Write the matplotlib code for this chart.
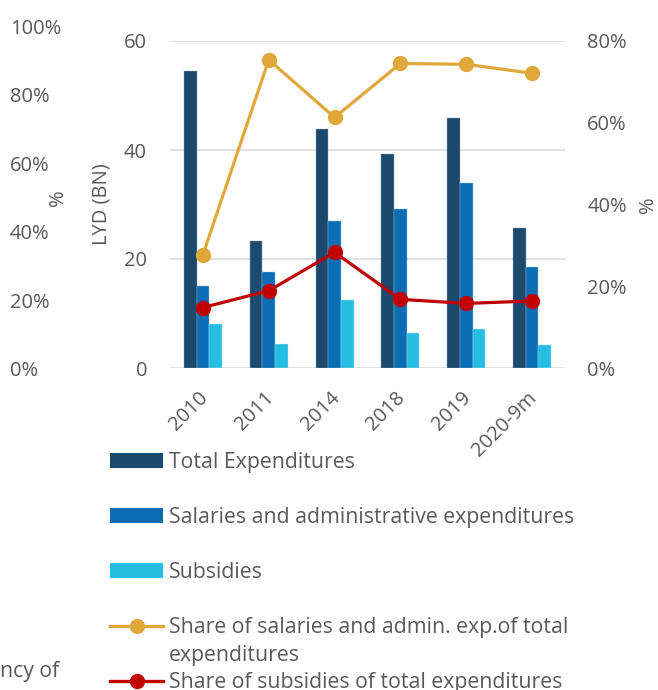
import matplotlib
matplotlib.use('Agg')
import matplotlib.pyplot as plt
import matplotlib.transforms as mtransforms
from matplotlib.lines import Line2D
from matplotlib.patches import Patch
import numpy as np

# ---- data ----
years = ['2010', '2011', '2014', '2018', '2019', '2020-9m']
total_exp = [54.5, 23.3, 43.8, 39.3, 45.8, 25.6]
salaries_exp = [15.0, 17.6, 26.9, 29.2, 33.9, 18.5]
subsidies = [8.0, 4.4, 12.4, 6.5, 7.2, 4.2]
share_salaries = [27.7, 75.4, 61.3, 74.5, 74.3, 72.1]
share_subsidies = [14.8, 18.9, 28.3, 16.8, 15.8, 16.4]
left_ticks = [0, 20, 40, 60, 80, 100]
lyd_ticks = [0, 20, 40, 60]
right_ticks = [0, 20, 40, 60, 80]
legend_labels = ['Total Expenditures',
                 'Salaries and administrative expenditures',
                 'Subsidies',
                 'Share of salaries and admin. exp.of total',
                 'Share of subsidies of total expenditures']

C_TOTAL = '#1c4a6e'
C_SAL = '#0b6db3'
C_SUB = '#26bde2'
C_GOLD = '#e0a83a'
C_RED = '#c00000'
GRAY = '#595959'

plt.rcParams['font.family'] = ['Open Sans', 'DejaVu Sans']
FS = 14.5
LFS = 15.3
W, H = 658, 690
fig = plt.figure(figsize=(W / 100, H / 100), dpi=100)


def fx(px):
    return px / W


def fy(py):
    return 1 - py / H


# ---- main axes ----
ax = fig.add_axes([fx(170), fy(368), fx(565) - fx(170), fy(41) - fy(368)])
x = np.arange(len(years))
bw = 0.1925
ax.bar(x - bw, total_exp, bw, color=C_TOTAL, zorder=2, edgecolor='#8fa7bb', linewidth=0.3)
ax.bar(x, salaries_exp, bw, color=C_SAL, zorder=2, edgecolor='#8fc0e0', linewidth=0.3)
ax.bar(x + bw, subsidies, bw, color=C_SUB, zorder=2, edgecolor='#a8e4f3', linewidth=0.3)
ax.set_xlim(-0.5, len(years) - 0.5)
ax.set_ylim(0, 60)
ax.set_yticks(lyd_ticks)
ax.grid(axis='y', color='#d9d9d9', lw=1.1)
ax.set_axisbelow(True)
for s in ax.spines.values():
    s.set_visible(False)
ax.tick_params(axis='y', length=0, pad=16.5, labelsize=FS, labelcolor=GRAY)
ax.tick_params(axis='x', length=0, pad=14.5, labelsize=FS, labelcolor=GRAY)
ax.set_xticks(x)
ax.set_xticklabels(years, rotation=45, ha='right', va='top', rotation_mode='anchor')
off = mtransforms.ScaledTranslation(-5 / 100, 0, fig.dpi_scale_trans)
for lab in ax.get_xticklabels():
    lab.set_transform(lab.get_transform() + off)
ax.set_ylabel('LYD (BN)', fontsize=FS, color=GRAY, va='center')
ax.yaxis.set_label_coords(fx(102), 0.5,
                          transform=mtransforms.blended_transform_factory(fig.transFigure, ax.transAxes))

# ---- right axes ----
ax2 = ax.twinx()
ax2.plot(x, share_salaries, color=C_GOLD, lw=2.3, marker='o', ms=10, zorder=3)
ax2.plot(x, share_subsidies, color=C_RED, lw=2.3, marker='o', ms=10, zorder=4)
ax2.set_ylim(0, 80)
ax2.set_yticks(right_ticks)
ax2.set_yticklabels([f'{t}%' for t in right_ticks])
for s in ax2.spines.values():
    s.set_visible(False)
ax2.tick_params(axis='y', length=0, pad=16, labelsize=FS, labelcolor=GRAY)
ax2.set_ylabel('%', fontsize=FS, color=GRAY, va='center', rotation=90)
ax2.yaxis.set_label_coords(fx(648), 0.5,
                           transform=mtransforms.blended_transform_factory(fig.transFigure, ax2.transAxes))

# ---- leftover left percent axis ----
ax0 = fig.add_axes([fx(10), fy(369), 0.0001, fy(26) - fy(369)])
ax0.set_ylim(0, 100)
ax0.set_yticks(left_ticks)
ax0.set_yticklabels([f'{t}%' for t in left_ticks])
ax0.set_xticks([])
ax0.patch.set_visible(False)
for s in ax0.spines.values():
    s.set_visible(False)
ax0.tick_params(axis='y', length=0, pad=0, labelsize=FS, labelcolor=GRAY)
plt.setp(ax0.get_yticklabels(), ha='left')
ax0.set_ylabel('%', fontsize=FS, color=GRAY, va='center')
ax0.yaxis.set_label_coords(fx(58), 0.5,
                           transform=mtransforms.blended_transform_factory(fig.transFigure, ax0.transAxes))

# ---- legend ----
handles = [Patch(facecolor=C_TOTAL), Patch(facecolor=C_SAL), Patch(facecolor=C_SUB),
           Line2D([], [], color=C_GOLD, lw=2.4, marker='o', ms=10),
           Line2D([], [], color=C_RED, lw=2.4, marker='o', ms=10)]
leg = fig.legend(handles, legend_labels, loc='upper left',
                 bbox_to_anchor=(fx(110), fy(452)), frameon=False, fontsize=LFS,
                 labelcolor=GRAY, handlelength=2.5, handletextpad=0.28,
                 labelspacing=1.6, borderpad=0, borderaxespad=0)

fig.canvas.draw()
bb = leg.get_texts()[3].get_window_extent(fig.canvas.get_renderer())
fig.text(bb.x0 / W, (bb.y0 - 28) / H, 'expenditures', ha='left', va='bottom',
         fontsize=LFS, color=GRAY)

fig.text(0, fy(672), 'ncy of', ha='left', va='center', fontsize=LFS, color=GRAY)

fig.savefig('out.png', dpi=100)
